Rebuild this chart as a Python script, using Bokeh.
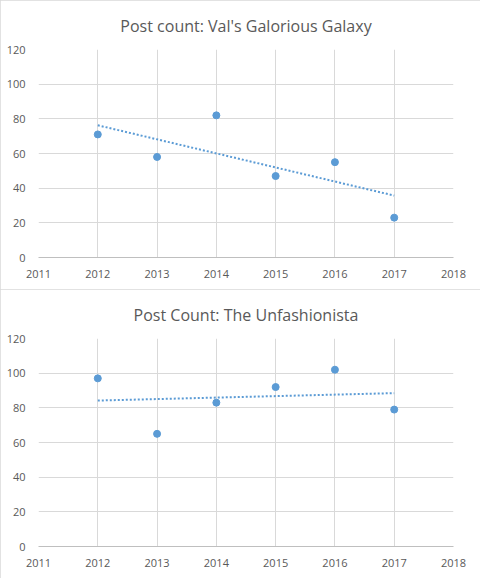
import numpy as np
from bokeh.plotting import figure
from bokeh.layouts import column
from bokeh.models import Range1d, FixedTicker
from bokeh.embed import file_html
from bokeh.resources import INLINE

years = [2012, 2013, 2014, 2015, 2016, 2017]
val_posts = [71, 58, 82, 47, 55, 23]
unf_posts = [97, 65, 83, 92, 102, 79]
titles = ["Post count: Val's Galorious Galaxy", "Post Count: The Unfashionista"]
x_ticks = [2011, 2012, 2013, 2014, 2015, 2016, 2017, 2018]
y_ticks = [0, 20, 40, 60, 80, 100, 120]

BLUE = "#5b9bd5"
TXT = "#595959"
FONT = "Open Sans"


def make_chart(title, ys):
    p = figure(width=480, height=289, output_backend="svg", toolbar_location=None,
               x_range=Range1d(2011, 2018), y_range=Range1d(0, 120),
               min_border_left=38, min_border_right=27,
               min_border_top=49, min_border_bottom=32)
    p.styles = {"outline": "1px solid #d9d9d9", "outline-offset": "-1px"}
    p.outline_line_color = None
    p.title.text = title
    p.title.align = "center"
    p.title.text_font = FONT
    p.title.text_font_size = "16px"
    p.title.text_font_style = "normal"
    p.title.text_color = TXT
    p.title.offset = -5
    p.title.standoff = 25
    for ax in (p.xaxis[0], p.yaxis[0]):
        ax.major_label_text_font = FONT
        ax.major_label_text_font_size = "11px"
        ax.major_label_text_color = TXT
        ax.major_tick_line_color = None
        ax.minor_tick_line_color = None
    p.xaxis.major_label_standoff = 6
    p.yaxis.major_label_standoff = 7
    p.xaxis.ticker = FixedTicker(ticks=x_ticks)
    p.yaxis.ticker = FixedTicker(ticks=y_ticks)
    p.xaxis.axis_line_color = "#bfbfbf"
    p.yaxis.axis_line_color = None
    p.xgrid.ticker = FixedTicker(ticks=x_ticks)
    p.ygrid.ticker = FixedTicker(ticks=y_ticks)
    p.xgrid.grid_line_color = "#d9d9d9"
    p.ygrid.grid_line_color = "#d9d9d9"
    # linear trendline
    xs = np.array(years, dtype=float)
    yv = np.array(ys, dtype=float)
    m, b = np.polyfit(xs, yv, 1)
    tx = [years[0], years[-1]]
    ty = [m * years[0] + b, m * years[-1] + b]
    p.line(tx, ty, line_color=BLUE, line_width=2, line_dash="2 2")
    p.scatter(years, ys, size=7, fill_color=BLUE, line_color=BLUE)
    return p


p1 = make_chart(titles[0], val_posts)
p2 = make_chart(titles[1], unf_posts)
p = column(p1, p2, spacing=0)

open("out.html", "w").write(file_html(p, INLINE))
